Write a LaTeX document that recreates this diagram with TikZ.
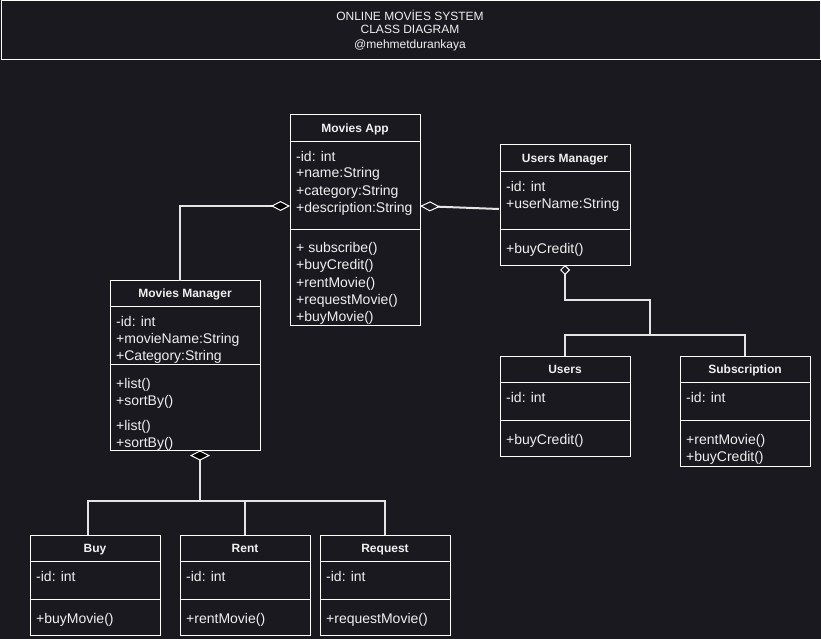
\documentclass[tikz,border=0pt]{standalone}
\usepackage{fontspec}
\setmainfont{Liberation Sans}
\usetikzlibrary{arrows.meta,calc}
\definecolor{bgc}{RGB}{26,25,32}
\definecolor{fg}{RGB}{240,240,240}
\definecolor{lc}{RGB}{228,228,228}
\tikzset{
  classbox/.style={draw=white, line width=1pt, anchor=north west, inner sep=0pt, outer sep=0pt},
  hdr/.style={font=\bfseries\fontsize{12}{14}\selectfont, text=fg, inner sep=0pt, text height=8.6pt, text depth=0pt},
  ttl/.style={font=\fontsize{12}{14}\selectfont, text=fg, inner sep=0pt, text height=8.6pt, text depth=0pt},
  mtext/.style={font=\fontsize{14}{17}\selectfont, text=fg, anchor=west, inner sep=0pt, text height=10pt, text depth=0pt},
  sepline/.style={draw=white, line width=1pt},
  conn/.style={draw=lc, line width=2pt},
  fdia/.tip={Diamond[length=19pt,width=10pt,fill=black,color=white,line width'=1pt]},
  fdiaw/.tip={Diamond[length=10pt,width=20pt,fill=black,color=white,line width'=1pt]},
  hdia/.tip={Diamond[length=20pt,width=10pt,fill=bgc,color=white,line width'=1pt]},
  hdias/.tip={Diamond[length=10pt,width=10pt,fill=bgc,color=white,line width'=1pt]},
}
\begin{document}
\begin{tikzpicture}[x=1pt,y=-1pt]
\fill[bgc] (0,0) rectangle (821,639);
\useasboundingbox (0,0) rectangle (821,639);

% title
\node[classbox, minimum width=819pt, minimum height=59pt] (titlebox) at (1,1) {};
\node[ttl] (t1) at (410,16) {ONLINE MOVİES SYSTEM};
\node[ttl] (t2) at (410,29.5) {CLASS DIAGRAM};
\node[ttl] (t3) at (410,44) {@mehmetdurankaya};

% Movies App
\node[classbox, minimum width=130pt, minimum height=210pt] (app) at (290,115) {};
\draw[sepline] (290,141.5) -- (420,141.5);
\draw[sepline] (290,229) -- (420,229);
\node[hdr] (app-h) at (355,128.5) {Movies App};
\node[mtext] (app-a1) at (296,156) {-id: int};
\node[mtext] (app-a2) at (296,173) {+name:String};
\node[mtext] (app-a3) at (296,190) {+category:String};
\node[mtext] (app-a4) at (296,207) {+description:String};
\node[mtext] (app-m1) at (296,247) {+ subscribe()};
\node[mtext] (app-m2) at (296,264.5) {+buyCredit()};
\node[mtext] (app-m3) at (296,282) {+rentMovie()};
\node[mtext] (app-m4) at (296,299) {+requestMovie()};
\node[mtext] (app-m5) at (296,316) {+buyMovie()};

% Users Manager
\node[classbox, minimum width=130pt, minimum height=120pt] (um) at (500,145) {};
\draw[sepline] (500,171.5) -- (630,171.5);
\draw[sepline] (500,229) -- (630,229);
\node[hdr] (um-h) at (565,158) {Users Manager};
\node[mtext] (um-a1) at (506,186) {-id: int};
\node[mtext] (um-a2) at (506,203) {+userName:String};
\node[mtext] (um-m1) at (506,248) {+buyCredit()};

% Movies Manager
\node[classbox, minimum width=150pt, minimum height=170pt] (mm) at (110,280.5) {};
\draw[sepline] (110,306.5) -- (260,306.5);
\draw[sepline] (110,364) -- (260,364);
\node[hdr] (mm-h) at (185,293.5) {Movies Manager};
\node[mtext] (mm-a1) at (116,321) {-id: int};
\node[mtext] (mm-a2) at (116,338) {+movieName:String};
\node[mtext] (mm-a3) at (116,355) {+Category:String};
\node[mtext] (mm-m1) at (116,383) {+list()};
\node[mtext] (mm-m2) at (116,400.5) {+sortBy()};
\node[mtext] (mm-m3) at (116,425) {+list()};
\node[mtext] (mm-m4) at (116,442) {+sortBy()};

% Users
\node[classbox, minimum width=130pt, minimum height=100pt] (users) at (500,356) {};
\draw[sepline] (500,382) -- (630,382);
\draw[sepline] (500,420.5) -- (630,420.5);
\node[hdr] (users-h) at (565,369) {Users};
\node[mtext] (users-a1) at (506,397) {-id: int};
\node[mtext] (users-m1) at (506,439) {+buyCredit()};

% Subscription
\node[classbox, minimum width=130pt, minimum height=110pt] (sub) at (680,356) {};
\draw[sepline] (680,382) -- (810,382);
\draw[sepline] (680,420.5) -- (810,420.5);
\node[hdr] (sub-h) at (745,369) {Subscription};
\node[mtext] (sub-a1) at (686,397) {-id: int};
\node[mtext] (sub-m1) at (686,439) {+rentMovie()};
\node[mtext] (sub-m2) at (686,456) {+buyCredit()};

% Buy
\node[classbox, minimum width=130pt, minimum height=100pt] (buy) at (30,535) {};
\draw[sepline] (30,561) -- (160,561);
\draw[sepline] (30,599) -- (160,599);
\node[hdr] (buy-h) at (95,548.5) {Buy};
\node[mtext] (buy-a1) at (36,576) {-id: int};
\node[mtext] (buy-m1) at (36,618.5) {+buyMovie()};

% Rent
\node[classbox, minimum width=130pt, minimum height=100pt] (rent) at (180,535) {};
\draw[sepline] (180,561) -- (310,561);
\draw[sepline] (180,599) -- (310,599);
\node[hdr] (rent-h) at (245,548.5) {Rent};
\node[mtext] (rent-a1) at (186,576) {-id: int};
\node[mtext] (rent-m1) at (186,618.5) {+rentMovie()};

% Request
\node[classbox, minimum width=130pt, minimum height=100pt] (req) at (320,535) {};
\draw[sepline] (320,561) -- (450,561);
\draw[sepline] (320,599) -- (450,599);
\node[hdr] (req-h) at (385,548.5) {Request};
\node[mtext] (req-a1) at (326,576) {-id: int};
\node[mtext] (req-m1) at (326,618.5) {+requestMovie()};

% connectors
\coordinate (app-agg) at ($(app.north west)+(0,91)$);
\coordinate (mm-top) at ($(mm.north)+(-5,0)$);
\draw[conn,{fdia}-] (app-agg) -| (mm-top);

\coordinate (app-r) at ($(app.north east)+(0,91)$);
\coordinate (um-l) at ($(um.north west)+(-1,64)$);
\draw[conn,-{hdia}] (um-l) -- (app-r);

\coordinate (usplit) at ($(um.south)+(85,70)$);
\draw[conn,{hdias}-] (um.south) -- ++(0,35) -| (usplit);
\draw[conn] (usplit) -| (users.north);
\draw[conn] (usplit) -| (sub.north);

\coordinate (mm-b) at ($(mm.south)+(15,0)$);
\coordinate (msplit) at ($(mm-b)+(0,50)$);
\coordinate (buy-t) at ($(buy.north)+(-7,0)$);
\draw[conn,{fdiaw}-] (mm-b) -- (msplit);
\draw[conn] (msplit) -| (buy-t);
\draw[conn] (msplit) -| (rent.north);
\draw[conn] (msplit) -| (req.north);
\end{tikzpicture}
\end{document}
